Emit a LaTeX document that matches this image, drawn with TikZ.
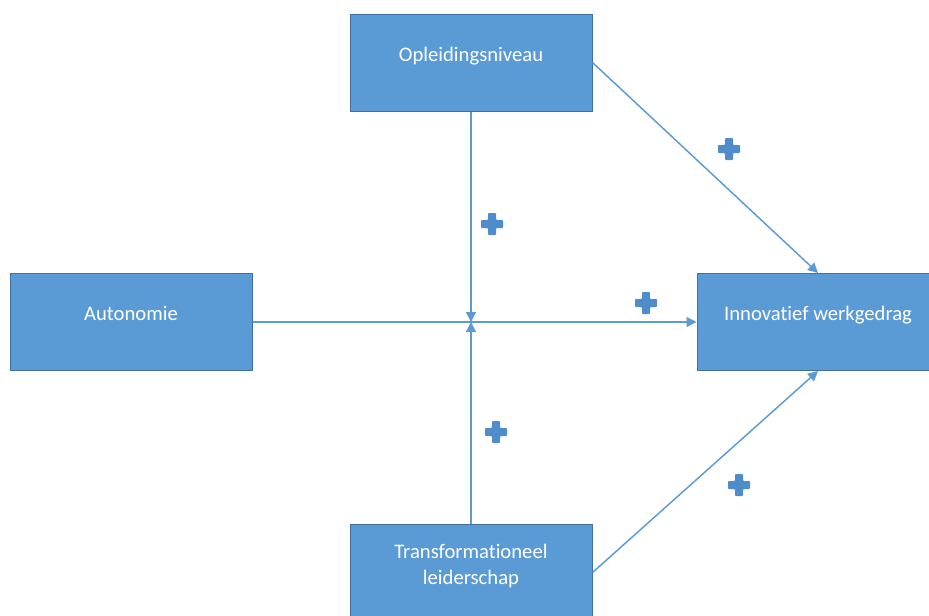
\documentclass[tikz,border=0pt]{standalone}
\usepackage{fontspec}
\setmainfont{Carlito}[Ligatures=NoCommon]
\usetikzlibrary{arrows.meta}

\definecolor{blokblauw}{HTML}{5B9BD5}
\definecolor{randblauw}{HTML}{41719C}
\definecolor{plusblauw}{HTML}{4F8CCB}

\tikzset{
  blok/.style={rectangle, draw=randblauw, line width=0.75pt, fill=blokblauw,
    text=white, minimum width=181.5pt, minimum height=72.75pt,
    font=\fontsize{15.5}{19.5}\selectfont, align=center},
  eenregel/.style={text height=11pt, text depth=13pt},
  pijl/.style={draw=blokblauw, line width=1.1pt, -{Triangle[length=7.5pt,width=7.5pt]}},
  plusteken/.pic={\fill[plusblauw, rounded corners=0.6pt]
    (-4,-11) -- (4,-11) -- (4,-4) -- (11,-4) -- (11,4) -- (4,4) -- (4,11)
    -- (-4,11) -- (-4,4) -- (-11,4) -- (-11,-4) -- (-4,-4) -- cycle;}
}

\begin{document}
\begin{tikzpicture}[x=0.75pt, y=-0.75pt]
        \useasboundingbox (0,0) rectangle (929,615);
        \clip (0,0) rectangle (929,615);

        % blokken
        \node[blok, eenregel] (opl) at (471,62.5) {Opleidingsniveau};
        \node[blok, eenregel] (auto) at (131,322) {Autonomie};
        \node[blok, eenregel] (inno) at (818,322) {Innovatief werkgedrag};
        \node[blok, text depth=12pt] (trans) at (471,572.5) {Transformationeel\\leiderschap};

        \coordinate (kruispunt) at (opl.south |- auto.east);

        % pijlen
        \draw[pijl] (auto.east) -- (inno.west);
        \draw[pijl] (opl.south) -- (kruispunt);
        \draw[pijl] (trans.north) -- (kruispunt);
        \draw[pijl] (opl.east) -- (inno.north);
        \draw[pijl] (trans.east) -- (inno.south);

        % plustekens
        \pic at (729,149) {plusteken};
        \pic at (492,224) {plusteken};
        \pic at (646,303) {plusteken};
        \pic at (496,432) {plusteken};
        \pic at (739,485) {plusteken};
    \end{tikzpicture}
\end{document}
